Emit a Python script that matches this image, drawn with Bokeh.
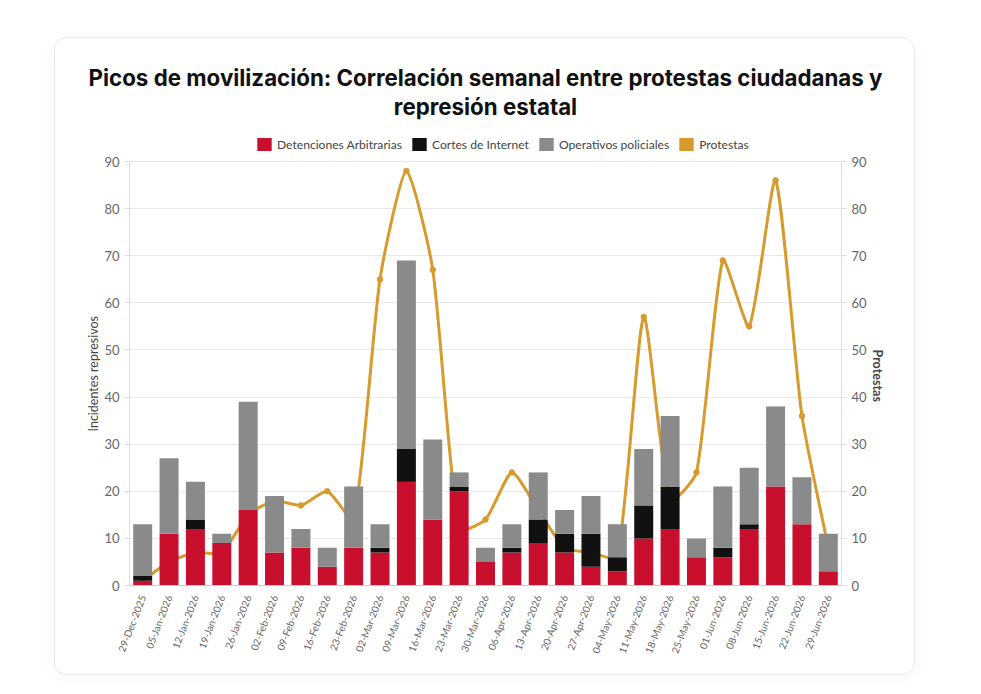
from bokeh.plotting import figure
from bokeh.models import (ColumnDataSource, FactorRange, Range1d, LinearAxis, Legend, LegendItem,
                          FixedTicker, Title)
from bokeh.embed import file_html
from bokeh.resources import INLINE

dates = ["29-Dec-2025","05-Jan-2026","12-Jan-2026","19-Jan-2026","26-Jan-2026","02-Feb-2026","09-Feb-2026",
         "16-Feb-2026","23-Feb-2026","02-Mar-2026","09-Mar-2026","16-Mar-2026","23-Mar-2026","30-Mar-2026",
         "06-Apr-2026","13-Apr-2026","20-Apr-2026","27-Apr-2026","04-May-2026","11-May-2026","18-May-2026",
         "25-May-2026","01-Jun-2026","08-Jun-2026","15-Jun-2026","22-Jun-2026","29-Jun-2026"]
detenciones = [1,11,12,9,16,7,8,4,8,7,22,14,20,5,7,9,7,4,3,10,12,6,6,12,21,13,3]
cortes      = [1,0,2,0,0,0,0,0,0,1,7,0,1,0,1,5,4,7,3,7,9,0,2,1,0,0,0]
operativos  = [11,16,8,2,23,12,4,4,13,5,40,17,3,3,5,10,5,8,7,12,15,4,13,12,17,10,8]
protestas   = [1,5,7,7,15,18,17,20,14,65,88,67,12,14,24,16,8,7,6,57,18,24,69,55,86,36,8]
title_lines = ["Picos de movilización: Correlación semanal entre protestas ciudadanas y", "represión estatal"]
y_ticks = list(range(0, 91, 10))

RED, BLACK, GREY, GOLD = "#c8102e", "#111111", "#8a8a8a", "#d69a2d"
TICK = "#666666"
FW, FH = 712, 424
HEADROOM = 42                      # px of frame above the 90 gridline, holds the legend
TENSION = 0.2

p = figure(x_range=FactorRange(factors=dates, range_padding=0, factor_padding=0),
           y_range=Range1d(0, 90 * (FH + HEADROOM) / FH), width=859, height=636,
           output_backend="svg", toolbar_location=None, background_fill_color="white",
           border_fill_color="white", outline_line_color=None,
           min_border_left=74, min_border_right=73, min_border_top=123 - HEADROOM, min_border_bottom=89,
           margin=(38, 0, 0, 55))
p.styles = {"border-radius": "12px", "box-shadow": "0 0 0 1px #e9e9e9, 0 4px 18px rgba(0,0,0,0.04)",
            "overflow": "hidden"}

# smooth line: cubic segments whose control points derive from the data
ax, ay = FW / len(dates), FH / 90
def ctrl(i):
    c = (i + .5, protestas[i])
    a = (max(i - 1, 0) + .5, protestas[max(i - 1, 0)])
    b = (min(i + 1, len(dates) - 1) + .5, protestas[min(i + 1, len(dates) - 1)])
    d1 = (((c[0]-a[0])*ax)**2 + ((c[1]-a[1])*ay)**2)**.5
    d2 = (((b[0]-c[0])*ax)**2 + ((b[1]-c[1])*ay)**2)**.5
    tot = (d1 + d2) or 1
    f1, f2 = TENSION*d1/tot, TENSION*d2/tot
    return ((c[0]-f1*(b[0]-a[0]), c[1]-f1*(b[1]-a[1])), (c[0]+f2*(b[0]-a[0]), c[1]+f2*(b[1]-a[1])))
cs = [ctrl(i) for i in range(len(dates))]
n = len(dates) - 1
p.bezier(x0=[i+.5 for i in range(n)], y0=protestas[:-1], x1=[i+1.5 for i in range(n)], y1=protestas[1:],
         cx0=[cs[i][1][0] for i in range(n)], cy0=[cs[i][1][1] for i in range(n)],
         cx1=[cs[i+1][0][0] for i in range(n)], cy1=[cs[i+1][0][1] for i in range(n)],
         line_color=GOLD, line_width=3, line_cap="round")
p.scatter(x=dates, y=protestas, size=5.5, color=GOLD)

src = ColumnDataSource(dict(x=dates, det=detenciones, cor=cortes, ope=operativos))
bars = p.vbar_stack(["det", "cor", "ope"], x="x", width=0.72, source=src,
                    color=[RED, BLACK, GREY], line_color=None)
swatch = p.vbar(x=[dates[0]], top=[0], width=0.7, color=GOLD, line_color=None)

p.xgrid.grid_line_color = None
p.ygrid.grid_line_color = "#e8e8e8"
p.ygrid.ticker = FixedTicker(ticks=y_ticks)

p.add_layout(LinearAxis(), "right")
for ax_ in [p.yaxis[0], p.yaxis[1]]:
    ax_.ticker = FixedTicker(ticks=y_ticks)
    ax_.bounds = (0, 90)
    ax_.axis_line_color = "#dddddd"
    ax_.major_tick_line_color = "#dddddd"
    ax_.major_tick_out = 5
    ax_.major_tick_in = 0
    ax_.minor_tick_line_color = None
    ax_.major_label_text_font = "Lato"
    ax_.major_label_text_font_size = "13px"
    ax_.major_label_text_color = TICK
    ax_.major_label_standoff = 5

p.add_layout(Title(text="Incidentes represivos", align="left", offset=154, text_font="Lato",
                   text_font_size="12.5px", text_font_style="normal", text_color="#444444", standoff=2), "left")
p.add_layout(Title(text="Protestas", align="left", offset=230, text_font="Lato",
                   text_font_size="12.5px", text_font_style="bold", text_color="#444444", standoff=1), "right")

x = p.xaxis[0]
x.major_label_orientation = 1.2
x.major_label_text_font = "Lato"
x.major_label_text_font_size = "10px"
x.major_label_text_color = TICK
x.major_label_standoff = 4
x.axis_line_color = "#cccccc"
x.major_tick_line_color = None
x.minor_tick_line_color = None

legend = Legend(items=[LegendItem(label="Detenciones Arbitrarias", renderers=[bars[0]]),
                       LegendItem(label="Cortes de Internet", renderers=[bars[1]]),
                       LegendItem(label="Operativos policiales", renderers=[bars[2]]),
                       LegendItem(label="Protestas", renderers=[swatch])],
                orientation="horizontal", location=(126, FH + 9), background_fill_alpha=0,
                border_line_color=None, margin=0, padding=0, spacing=8, glyph_width=18, glyph_height=16,
                label_text_font="Lato", label_text_font_size="12.1px", label_text_color="#444444",
                label_standoff=4)
p.add_layout(legend, "center")
for line in reversed(title_lines):
    p.add_layout(Title(text=line, align="center", text_font="Inter", text_font_size="22.3px",
                       text_font_style="bold", text_color="#111111", standoff=0), "above")

open("out.html", "w").write(file_html(p, INLINE))
